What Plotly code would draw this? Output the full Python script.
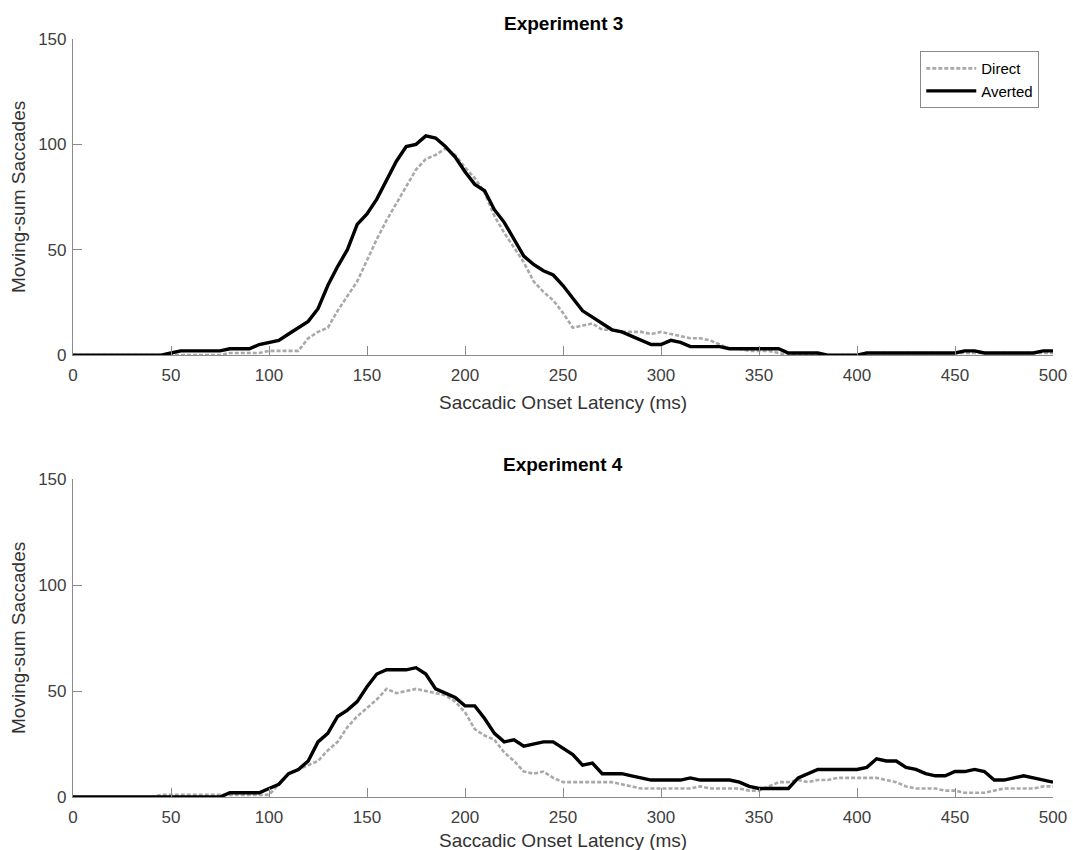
import plotly.graph_objects as go

latency_ms = list(range(0, 505, 5))

exp3_direct = [0, 0, 0, 0, 0, 0, 0, 0, 0, 0,
               0, 0, 0, 0, 0, 0, 1, 1, 1, 1,
               2, 2, 2, 2, 8, 11, 13, 21, 28, 35,
               45, 55, 64, 72, 80, 88, 93, 95, 98, 95,
               89, 84, 77, 66, 58, 51, 44, 35, 30, 26,
               20, 13, 14, 15, 12, 12, 11, 11, 11, 10,
               11, 10, 9, 8, 8, 7, 5, 3, 3, 2,
               2, 2, 1, 0, 0, 0, 0, 0, 0, 0,
               0, 1, 1, 1, 1, 1, 1, 1, 1, 1,
               1, 1, 1, 1, 1, 1, 1, 1, 1, 1,
               1]

exp3_averted = [0, 0, 0, 0, 0, 0, 0, 0, 0, 0,
                1, 2, 2, 2, 2, 2, 3, 3, 3, 5,
                6, 7, 10, 13, 16, 22, 33, 42, 50, 62,
                67, 74, 83, 92, 99, 100, 104, 103, 99, 94,
                87, 81, 78, 69, 63, 55, 47, 43, 40, 38,
                33, 27, 21, 18, 15, 12, 11, 9, 7, 5,
                5, 7, 6, 4, 4, 4, 4, 3, 3, 3,
                3, 3, 3, 1, 1, 1, 1, 0, 0, 0,
                0, 1, 1, 1, 1, 1, 1, 1, 1, 1,
                1, 2, 2, 1, 1, 1, 1, 1, 1, 2,
                2]

exp4_direct = [0, 0, 0, 0, 0, 0, 0, 0, 0, 1,
               1, 1, 1, 1, 1, 1, 1, 1, 1, 1,
               1, 6, 11, 13, 15, 17, 22, 26, 33, 38,
               42, 46, 51, 49, 50, 51, 50, 49, 48, 45,
               40, 32, 29, 27, 21, 17, 12, 11, 12, 9,
               7, 7, 7, 7, 7, 7, 6, 5, 4, 4,
               4, 4, 4, 4, 5, 4, 4, 4, 4, 3,
               3, 5, 7, 7, 8, 7, 8, 8, 9, 9,
               9, 9, 9, 8, 7, 5, 4, 4, 4, 3,
               3, 2, 2, 2, 3, 4, 4, 4, 4, 5,
               5]

exp4_averted = [0, 0, 0, 0, 0, 0, 0, 0, 0, 0,
                0, 0, 0, 0, 0, 0, 2, 2, 2, 2,
                4, 6, 11, 13, 17, 26, 30, 38, 41, 45,
                52, 58, 60, 60, 60, 61, 58, 51, 49, 47,
                43, 43, 37, 30, 26, 27, 24, 25, 26, 26,
                23, 20, 15, 16, 11, 11, 11, 10, 9, 8,
                8, 8, 8, 9, 8, 8, 8, 8, 7, 5,
                4, 4, 4, 4, 9, 11, 13, 13, 13, 13,
                13, 14, 18, 17, 17, 14, 13, 11, 10, 10,
                12, 12, 13, 12, 8, 8, 9, 10, 9, 8,
                7]

x_ticks = [0, 50, 100, 150, 200, 250, 300, 350, 400, 450, 500]
y_ticks = [0, 50, 100, 150]
series_names = ["Direct", "Averted"]
panel_titles = ["Experiment 3", "Experiment 4"]
x_title = "Saccadic Onset Latency (ms)"
y_title = "Moving-sum Saccades"

direct_style = dict(color="#a9a9a9", width=2.6, dash="4px,2px")
averted_style = dict(color="#000000", width=3.4)

fig = go.Figure()
fig.add_trace(go.Scatter(x=latency_ms, y=exp3_direct, mode="lines", name=series_names[0],
                         line=direct_style, xaxis="x", yaxis="y", showlegend=True))
fig.add_trace(go.Scatter(x=latency_ms, y=exp3_averted, mode="lines", name=series_names[1],
                         line=averted_style, xaxis="x", yaxis="y", showlegend=True))
fig.add_trace(go.Scatter(x=latency_ms, y=exp4_direct, mode="lines", name=series_names[0],
                         line=direct_style, xaxis="x2", yaxis="y2", showlegend=False))
fig.add_trace(go.Scatter(x=latency_ms, y=exp4_averted, mode="lines", name=series_names[1],
                         line=averted_style, xaxis="x2", yaxis="y2", showlegend=False))

axis_common = dict(
    showline=True, linecolor="#8a8a8a", linewidth=1.2,
    ticks="inside", ticklen=9, tickwidth=1, tickcolor="#8a8a8a",
    showgrid=False, zeroline=False, automargin=False,
    tickfont=dict(family="Liberation Sans, Arial, sans-serif", size=17, color="#404040"),
    mirror=False, fixedrange=True,
)

fig.update_layout(
    width=1073, height=850,
    margin=dict(l=73, r=20, t=39, b=53),
    paper_bgcolor="white", plot_bgcolor="white",
    font=dict(family="Liberation Sans, Arial, sans-serif", color="#262626"),
    xaxis=dict(domain=[0, 1], range=[0, 500], tickvals=x_ticks, anchor="y",
               ticklabelstandoff=4, **axis_common),
    yaxis=dict(domain=[0.583, 1], range=[0, 150], tickvals=y_ticks, anchor="x",
               ticklabelstandoff=2, **axis_common),
    xaxis2=dict(domain=[0, 1], range=[0, 500], tickvals=x_ticks, anchor="y2",
                ticklabelstandoff=4, **axis_common),
    yaxis2=dict(domain=[0, 0.4195], range=[0, 150], tickvals=y_ticks, anchor="x2",
                ticklabelstandoff=2, **axis_common),
    legend=dict(x=0.986, y=0.984, xanchor="right", yanchor="top",
                bgcolor="white", bordercolor="#8a8a8a", borderwidth=1,
                font=dict(family="Liberation Sans, Arial, sans-serif", size=15, color="#000000"),
                tracegroupgap=0, itemwidth=50),
    showlegend=True,
)

ann_font = dict(family="Liberation Sans, Arial, sans-serif", size=19, color="#333333")
title_font = dict(family="Liberation Sans, Arial, sans-serif", size=19, color="#000000")
annotations = [
    dict(text="<b>" + panel_titles[0] + "</b>", x=0.5, y=1.0211, xref="paper", yref="paper",
         xanchor="center", yanchor="middle", showarrow=False, font=title_font),
    dict(text="<b>" + panel_titles[1] + "</b>", x=0.5, y=0.438, xref="paper", yref="paper",
         xanchor="center", yanchor="middle", showarrow=False, font=title_font),
    dict(text=x_title, x=0.5, y=0.5211, xref="paper", yref="paper",
         xanchor="center", yanchor="middle", showarrow=False, font=ann_font),
    dict(text=x_title, x=0.5, y=-0.057, xref="paper", yref="paper",
         xanchor="center", yanchor="middle", showarrow=False, font=ann_font),
    dict(text=y_title, x=-0.0551, y=0.7916, xref="paper", yref="paper", textangle=-90,
         xanchor="center", yanchor="middle", showarrow=False, font=ann_font),
    dict(text=y_title, x=-0.0551, y=0.2098, xref="paper", yref="paper", textangle=-90,
         xanchor="center", yanchor="middle", showarrow=False, font=ann_font),
]
fig.update_layout(annotations=annotations)

fig.write_html("out.html",
               config={"displayModeBar": False},
               post_script="document.body.style.margin='0px';document.body.style.overflow='hidden';")
